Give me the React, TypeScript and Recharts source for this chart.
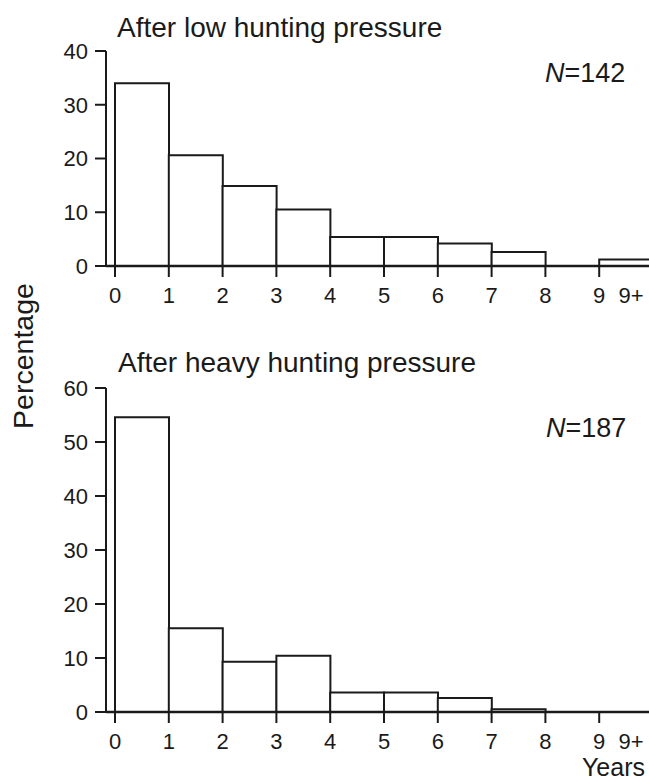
import React from 'react';
import { BarChart, Bar, XAxis, YAxis, ReferenceLine } from 'recharts';

// age classes (years); last bin is "9+"
const bins = ['0', '1', '2', '3', '4', '5', '6', '7', '8', '9+'];
const lowPressure = [34.0, 20.6, 14.9, 10.5, 5.4, 5.4, 4.2, 2.6, 0, 1.2];
const heavyPressure = [54.6, 15.5, 9.3, 10.4, 3.6, 3.6, 2.6, 0.5, 0, 0];

// labels at the left edge of each bin, plus the centred "9+" label
const edgeLabels = ['0', '1', '2', '3', '4', '5', '6', '7', '8', '9'];
const lastLabel = '9+';
const lowTicks = [0, 10, 20, 30, 40];
const heavyTicks = [0, 10, 20, 30, 40, 50, 60];

const INK = '#1a1a1a';
const FONT = '"Liberation Sans", Arial, Helvetica, sans-serif';

const CHART_W = 680;
const MARGIN_R = 27;
const Y_W = 106;
const PAD_L = 9;
const BAND = (CHART_W - MARGIN_R - Y_W - PAD_L) / bins.length;

const EdgeTick = (props: any) => {
  const { x, y, payload } = props;
  const i = payload.index ?? bins.indexOf(payload.value);
  const left = x - BAND / 2;
  const isLast = i === bins.length - 1;
  return (
    <g>
      <line x1={left} x2={left} y1={y} y2={y + 11} stroke={INK} strokeWidth={2} />
      <text x={left} y={y + 21} dy="0.71em" textAnchor="middle" fontSize={22} fill={INK} fontFamily={FONT}>
        {edgeLabels[i]}
      </text>
      {isLast && (
        <text x={x + 5} y={y + 21} dy="0.71em" textAnchor="middle" fontSize={22} fill={INK} fontFamily={FONT}>
          {lastLabel}
        </text>
      )}
    </g>
  );
};

interface HistProps {
  values: number[];
  yTicks: number[];
  height: number;
  marginTop: number;
  marginBottom: number;
}

const Histogram: React.FC<HistProps> = ({ values, yTicks, height, marginTop, marginBottom }) => {
  const data = bins.map((bin, i) => ({ bin, value: values[i] }));
  return (
    <BarChart
      width={CHART_W}
      height={height}
      data={data}
      barCategoryGap={0}
      barGap={0}
      margin={{ top: marginTop, right: MARGIN_R, left: 0, bottom: marginBottom }}
    >
      <XAxis
        dataKey="bin"
        height={30}
        padding={{ left: PAD_L, right: 0 }}
        interval={0}
        axisLine={false}
        tickLine={false}
        tickSize={0}
        tickMargin={0}
        tick={<EdgeTick />}
      />
      <YAxis
        width={Y_W}
        domain={[0, yTicks[yTicks.length - 1]]}
        ticks={yTicks}
        interval={0}
        tickSize={11}
        tickMargin={7}
        axisLine={{ stroke: INK, strokeWidth: 2 }}
        tickLine={{ stroke: INK, strokeWidth: 2 }}
        tick={{ fill: INK, fontSize: 22, fontFamily: FONT }}
      />
      <Bar dataKey="value" fill="#ffffff" stroke={INK} strokeWidth={2} isAnimationActive={false} />
      <ReferenceLine y={0} stroke={INK} strokeWidth={2.5} />
    </BarChart>
  );
};

export default function App() {
  return (
    <div
      style={{
        position: 'absolute',
        left: 0,
        top: 0,
        width: 649,
        height: 782,
        overflow: 'hidden',
        background: '#ffffff',
      }}
    >
      <div style={{ position: 'absolute', left: 0, top: 0 }}>
        <Histogram values={lowPressure} yTicks={lowTicks} height={320} marginTop={51} marginBottom={24} />
      </div>
      <div style={{ position: 'absolute', left: 0, top: 330 }}>
        <Histogram values={heavyPressure} yTicks={heavyTicks} height={430} marginTop={58} marginBottom={18} />
      </div>
      <svg
        width={649}
        height={782}
        style={{ position: 'absolute', left: 0, top: 0, pointerEvents: 'none' }}
        fontFamily={FONT}
        fill={INK}
      >
        <text x={117} y={37} fontSize={28}>After low hunting pressure</text>
        <text x={545} y={82} fontSize={27}>
          <tspan fontStyle="italic">N</tspan>=142
        </text>
        <text x={118} y={372} fontSize={28}>After heavy hunting pressure</text>
        <text x={546} y={437} fontSize={27}>
          <tspan fontStyle="italic">N</tspan>=187
        </text>
        <text transform="translate(33,356) rotate(-90)" textAnchor="middle" fontSize={28.5}>Percentage</text>
        <text x={645} y={776} fontSize={25} textAnchor="end">Years</text>
      </svg>
    </div>
  );
}
